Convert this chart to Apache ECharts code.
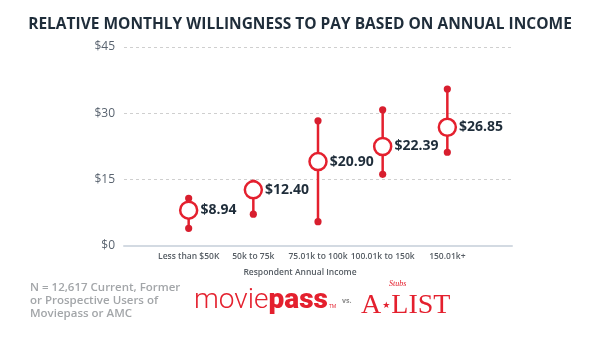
<!DOCTYPE html>
<html><head><meta charset="utf-8">
<script src="https://cdn.jsdelivr.net/npm/echarts@6/dist/echarts.min.js"></script>
<style>html,body{margin:0;padding:0;background:#fff}#c{width:600px;height:337px}</style>
</head><body><div id="c"></div>
<script>
const categories = ['Less than $50K', '50k to 75k', '75.01k to 100k', '100.01k to 150k', '150.01k+'];
const highs = [10.8, 14.2, 28.3, 30.8, 35.5];
const lows = [4.0, 7.2, 5.5, 16.2, 21.2];
const mids = [8.1, 12.7, 19.1, 22.5, 26.85];
const valueLabels = ['$8.94', '$12.40', '$20.90', '$22.39', '$26.85'];
const yTicks = [0, 15, 30, 45];

const RED = '#e4202e';
const DOT = '#d81e2e';
const DARK = '#1f2d3a';
const axisCats = [''].concat(categories).concat(['']);

const chart = echarts.init(document.getElementById('c'), null, {renderer: 'canvas'});
chart.setOption({
  animation: false,
  backgroundColor: '#fff',
  title: {
    text: 'RELATIVE MONTHLY WILLINGNESS TO PAY BASED ON ANNUAL INCOME',
    left: 'center', top: 12,
    textStyle: {fontFamily: 'Open Sans', fontWeight: 'bold', fontSize: 15.5, color: DARK}
  },
  grid: {left: 124, right: 88, top: 47, bottom: 91},
  xAxis: {
    type: 'category', data: axisCats, boundaryGap: false,
    axisLine: {lineStyle: {color: '#d3dae2', width: 2}},
    axisTick: {show: false},
    axisLabel: {fontFamily: 'Open Sans', fontSize: 8.5, fontWeight: 600, color: '#555c63', margin: 6, interval: 0},
    splitLine: {show: false}
  },
  yAxis: {
    type: 'value', min: yTicks[0], max: yTicks[yTicks.length - 1], interval: 15,
    axisLine: {show: false}, axisTick: {show: false},
    axisLabel: {fontFamily: 'Open Sans', fontSize: 12, color: '#5a6470', margin: 9, formatter: v => '$' + v},
    splitLine: {lineStyle: {color: '#cfcfcf', type: [3, 3], width: 1}}
  },
  series: [
    {
      type: 'custom',
      data: categories.map((c, i) => [c, lows[i], highs[i]]),
      renderItem: function (params, api) {
        const lo = api.coord([api.value(0), api.value(1)]);
        const hi = api.coord([api.value(0), api.value(2)]);
        return {
          type: 'group',
          children: [
            {type: 'line', shape: {x1: lo[0], y1: lo[1], x2: hi[0], y2: hi[1]}, style: {stroke: RED, lineWidth: 2.5}},
            {type: 'circle', shape: {cx: lo[0], cy: lo[1], r: 3.6}, style: {fill: DOT}},
            {type: 'circle', shape: {cx: hi[0], cy: hi[1], r: 3.6}, style: {fill: DOT}}
          ]
        };
      },
      encode: {x: 0, y: [1, 2]},
      z: 2
    },
    {
      type: 'scatter',
      data: categories.map((c, i) => [c, mids[i]]),
      symbol: 'circle', symbolSize: 17,
      itemStyle: {color: '#fff', borderColor: RED, borderWidth: 2.5, opacity: 1},
      label: {
        show: true, position: 'right', distance: 2,
        formatter: p => valueLabels[p.dataIndex],
        fontFamily: 'Open Sans', fontWeight: 'bold', fontSize: 14, color: DARK, opacity: 1
      },
      z: 3
    }
  ],
  graphic: [
    {type: 'text', left: 'center', top: 268, style: {text: 'Respondent Annual Income', font: '600 8.5px "Open Sans"', fill: '#555c63'}},
    {type: 'text', left: 30, top: 281, style: {text: 'N = 12,617 Current, Former\nor Prospective Users of\nMoviepass or AMC', font: '600 11.5px "Open Sans"', lineHeight: 13, fill: '#a3a6a9'}},
    {type: 'text', left: 194, top: 287, style: {
      text: '{a|movie}{b|pass}{t|TM}',
      rich: {
        a: {fontFamily: 'Roboto', fontWeight: 300, fontSize: 28, fill: RED},
        b: {fontFamily: 'Roboto', fontWeight: 900, fontSize: 28, fill: RED},
        t: {fontFamily: 'Open Sans', fontSize: 5, fill: RED, verticalAlign: 'bottom', padding: [0, 0, 6, 1]}
      }
    }},
    {type: 'text', left: 342, top: 297, style: {text: 'vs.', font: 'bold 7px "Open Sans"', fill: '#8a8a8a'}},
    {type: 'text', left: 361, top: 292, style: {
      text: '{a|A}{s|\u2605}{a|LIST}',
      rich: {
        a: {fontFamily: 'Liberation Serif', fontSize: 28, fill: RED},
        s: {fontFamily: 'DejaVu Sans', fontSize: 9, fill: RED, padding: [0, 1, 0, 1]}
      }
    }},
    {type: 'text', left: 389, top: 280, style: {text: 'Stubs', font: 'italic 8px "Liberation Serif"', fill: RED}}
  ]
});
</script></body></html>
